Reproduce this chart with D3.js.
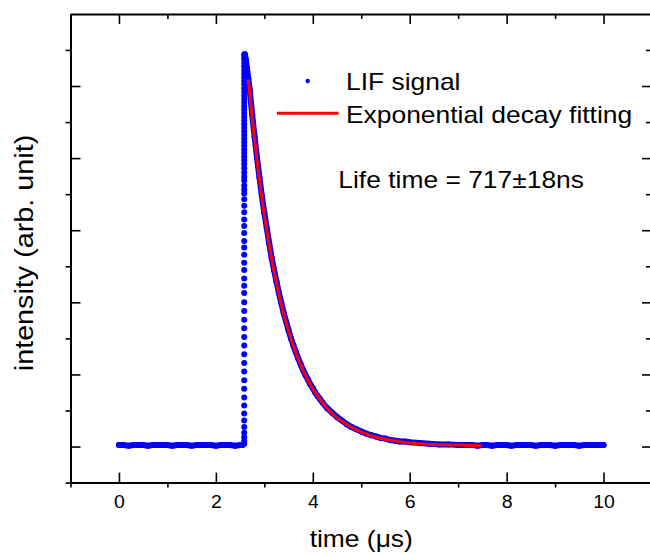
<!DOCTYPE html>
<html>
<head>
<meta charset="utf-8">
<script src="https://cdn.jsdelivr.net/npm/d3@7"></script>
<style>
body { margin: 0; background: #fff; }
text { font-family: "Liberation Sans", Arial, sans-serif; fill: #000; }
</style>
</head>
<body>
<script>
// LIF signal (time in us, intensity in major-tick units)
var baseTime = [0.0,0.1,0.2,0.3,0.4,0.5,0.6,0.7,0.8,0.9,1.0,1.1,1.2,1.3,1.4,1.5,1.6,1.7,1.8,1.9,2.0,2.1,2.2,2.3,2.4,2.5,2.55];
var baseSignal = [0.02,0.02,0.01,0.02,0.02,0.02,0.01,0.02,0.02,0.02,0.02,0.01,0.02,0.02,0.02,0.01,0.02,0.02,0.02,0.02,0.01,0.02,0.02,0.02,0.01,0.02,0.02];

// rising edge, basically vertical
var riseAt = 2.585;
var riseSignal = [0.04,0.08,0.13,0.19,0.27,0.36,0.46,0.57,0.68,0.80,0.92,1.04,1.16,1.28,1.40,1.52,1.64,1.76,1.88,2.00,
  2.13,2.23,2.33,2.45,2.55,2.66,2.76,2.85,2.96,3.06,3.15,3.25,3.34,3.43,3.51,3.56,3.62,3.69,3.74,3.80,3.86,3.92,3.97,
  4.02,4.07,4.12,4.17,4.22,4.27,4.32,4.37,4.42,4.47,4.52,4.57,4.62,4.67,4.72,4.77,4.82,4.87,4.92,4.97,5.02,5.07,5.12,
  5.17,5.22,5.27,5.32,5.37,5.41,5.44];

var decayTime = [2.60,2.62,2.64,2.67,2.70,2.75,2.80,2.85,2.90,2.95,3.00,3.05,3.10,3.15,3.20,3.25,3.30,3.35,3.40,3.45,
  3.50,3.55,3.60,3.65,3.70,3.75,3.80,3.85,3.90,3.95,4.00,4.05,4.10,4.15,4.20,4.30,4.40,4.50,4.60,4.70,4.80,4.90,5.00,
  5.10,5.20,5.30,5.40,5.50,5.60,5.70,5.80,5.90,6.00,6.20,6.40,6.60,6.80,7.00];
var decaySignal = [5.44,5.36,5.25,5.10,4.94,4.60,4.29,4.00,3.73,3.47,3.24,3.03,2.82,2.62,2.45,2.29,2.13,1.99,1.85,1.73,
  1.61,1.50,1.40,1.31,1.22,1.14,1.06,0.99,0.93,0.86,0.81,0.75,0.70,0.66,0.61,0.53,0.47,0.41,0.36,0.31,0.27,0.24,0.21,
  0.18,0.16,0.14,0.12,0.11,0.09,0.08,0.07,0.07,0.06,0.05,0.04,0.03,0.03,0.02];

var tailTime = [7.1,7.2,7.3,7.4,7.5,7.6,7.7,7.8,7.9,8.0,8.1,8.2,8.3,8.4,8.5,8.6,8.7,8.8,8.9,9.0,9.1,9.2,9.3,9.4,9.5,9.6,9.7,9.8,9.9,10.0];
var tailSignal = [0.02,0.02,0.02,0.01,0.02,0.02,0.01,0.02,0.02,0.02,0.01,0.02,0.02,0.02,0.02,0.01,0.02,0.02,0.02,0.01,0.02,0.02,0.02,0.02,0.01,0.02,0.02,0.02,0.02,0.02];

// exponential decay fit (red line)
var fitTime = [2.67,2.75,2.85,2.95,3.05,3.20,3.35,3.50,3.70,3.90,4.10,4.35,4.60,4.90,5.20,5.60,6.00,6.50,7.00,7.48];
var fitSignal = [5.09,4.55,3.96,3.44,3.00,2.43,1.97,1.60,1.21,0.92,0.70,0.49,0.35,0.23,0.15,0.09,0.05,0.03,0.02,0.01];

var xMajor = [0,2,4,6,8,10];
var xMinor = [-1,1,3,5,7,9,11];
var yMajor = [0,1,2,3,4,5];
var yMinor = [-0.5,0.5,1.5,2.5,3.5,4.5,5.5];

var width = 650, height = 555;

var svg = d3.select("body").append("svg")
    .attr("width", width)
    .attr("height", height);

svg.append("rect").attr("width", width).attr("height", height).attr("fill", "#fff");

var x = d3.scaleLinear().domain([-1, 11]).range([70.5, 652]);
var y = d3.scaleLinear().domain([-0.5, 6]).range([482.6, 13.9]);

// the original text is a bit wider than Liberation Sans
function widen(sel, k) {
    k = k || 1.1;
    sel.each(function() {
        var w = this.getComputedTextLength();
        d3.select(this).attr("textLength", w * k).attr("lengthAdjust", "spacingAndGlyphs");
    });
}

function styleAxis(g) {
    g.select(".domain").attr("stroke-width", 2);
    g.selectAll(".tick line").attr("stroke-width", 1.6);
}
function minorStyle(g) {
    g.select(".domain").remove();
    g.selectAll(".tick line").attr("stroke-width", 1.6);
}

// bottom axis: majors point in, minors out
var gBottom = svg.append("g").attr("transform", "translate(0," + y(-0.5) + ")");
gBottom.call(d3.axisBottom(x).tickValues(xMajor).tickSizeInner(-10).tickSizeOuter(0).tickPadding(13))
    .call(styleAxis);
gBottom.append("g").call(d3.axisBottom(x).tickValues(xMinor).tickSize(5).tickFormat("")).call(minorStyle);
gBottom.selectAll(".tick text")
    .attr("font-size", 18)
    .attr("font-family", "Liberation Sans, Arial, sans-serif")
    .call(widen, 1.08);

// top axis
var gTop = svg.append("g").attr("transform", "translate(0," + y(6) + ")");
gTop.call(d3.axisTop(x).tickValues(xMajor).tickSizeInner(-10).tickSizeOuter(0).tickFormat(""))
    .call(styleAxis);
gTop.append("g").call(d3.axisTop(x).tickValues(xMinor).tickSize(-5).tickFormat("")).call(minorStyle);

// left axis
var gLeft = svg.append("g").attr("transform", "translate(" + x(-1) + ",0)");
gLeft.call(d3.axisLeft(y).tickValues(yMajor).tickSizeInner(-10).tickSizeOuter(0).tickFormat(""))
    .call(styleAxis);
gLeft.append("g").call(d3.axisLeft(y).tickValues(yMinor).tickSize(5).tickFormat("")).call(minorStyle);

// right axis (sits on the edge of the picture)
var gRight = svg.append("g").attr("transform", "translate(" + x(11) + ",0)");
gRight.call(d3.axisRight(y).tickValues(yMajor).tickSizeInner(-10).tickSizeOuter(0).tickFormat(""))
    .call(styleAxis);
gRight.append("g").call(d3.axisRight(y).tickValues(yMinor).tickSize(-6).tickFormat("")).call(minorStyle);

// blue data
function pairs(ts, vs) { return ts.map(function(t, i) { return [t, vs[i]]; }); }
var basePts = pairs(baseTime, baseSignal);
var decayPts = pairs(decayTime, decaySignal).concat(pairs(tailTime, tailSignal));
var allPts = basePts
    .concat(riseSignal.map(function(v) { return [riseAt, v]; }))
    .concat(decayPts);

var line = d3.line().x(function(d) { return x(d[0]); }).y(function(d) { return y(d[1]); });

// dense samples: draw the band underneath, dots on top
svg.selectAll("path.band")
    .data([basePts, decayPts])
    .enter()
    .append("path")
    .attr("class", "band")
    .attr("d", line)
    .attr("fill", "none")
    .attr("stroke", "#0000ff")
    .attr("stroke-width", 6)
    .attr("stroke-linejoin", "round")
    .attr("stroke-linecap", "round");

svg.append("g").selectAll("circle")
    .data(allPts)
    .enter()
    .append("circle")
    .attr("cx", function(d) { return x(d[0]); })
    .attr("cy", function(d) { return y(d[1]); })
    .attr("r", 3)
    .attr("fill", "#0000ff");

// red fit
var fitLine = d3.line().curve(d3.curveMonotoneX)
    .x(function(d) { return x(d[0]); }).y(function(d) { return y(d[1]); });
svg.append("path")
    .attr("d", fitLine(pairs(fitTime, fitSignal)))
    .attr("fill", "none")
    .attr("stroke", "#ff0000")
    .attr("stroke-width", 3);

// legend
svg.append("circle").attr("cx", 307.7).attr("cy", 81).attr("r", 2.2).attr("fill", "#0000ff");
svg.append("line").attr("x1", 277).attr("x2", 338.5).attr("y1", 113.3).attr("y2", 113.3)
    .attr("stroke", "#ff0000").attr("stroke-width", 3);
svg.append("text").attr("x", 346).attr("y", 90).attr("font-size", 24).text("LIF signal").call(widen);
svg.append("text").attr("x", 346).attr("y", 122.7).attr("font-size", 24).text("Exponential decay fitting").call(widen);
svg.append("text").attr("x", 338.3).attr("y", 188.3).attr("font-size", 24).text("Life time = 717\u00b118ns").call(widen);

// axis titles
svg.append("text").attr("x", x(5)).attr("y", 547).attr("text-anchor", "middle").attr("font-size", 24)
    .text("time (\u03bcs)").call(widen);
svg.append("text").attr("transform", "translate(33,253) rotate(-90)").attr("text-anchor", "middle")
    .attr("font-size", 25).text("intensity (arb. unit)").call(widen, 1.15);
</script>
</body>
</html>
